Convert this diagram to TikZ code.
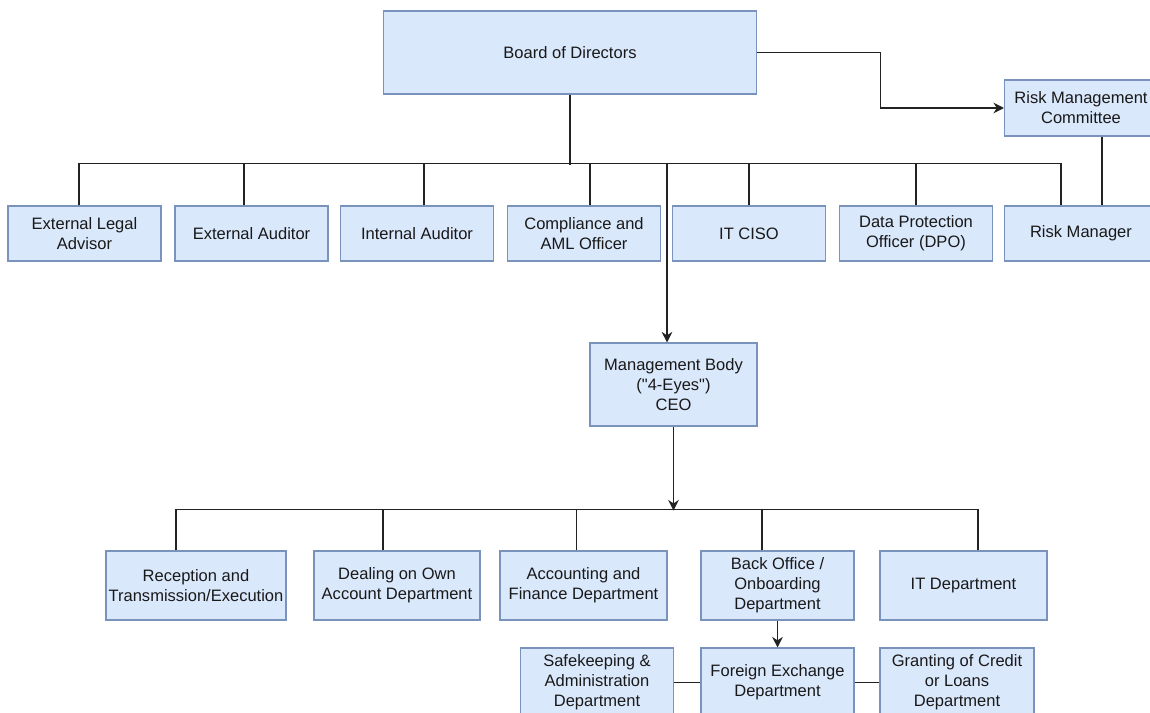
\documentclass[tikz,border=0pt]{standalone}
\usepackage{fontspec}
\setmainfont{Liberation Sans}
\usetikzlibrary{arrows.meta}
\definecolor{boxfill}{HTML}{DAE8FC}
\definecolor{boxline}{HTML}{7A93BC}
\definecolor{wire}{HTML}{222222}

\begin{document}
\begin{tikzpicture}[x=0.02cm, y=-0.02cm,
    unit/.style={rectangle, draw=boxline, fill=boxfill, line width=0.6pt, align=center, inner sep=1pt,
        minimum width=3.06cm, minimum height=1.1cm, text=black!90, font=\fontsize{9.4}{11.4}\selectfont},
    link/.style={draw=wire, line width=0.7pt},
    feed/.style={link, -{Stealth[length=6pt, width=6pt]}}]
    \clip (0,0) rectangle (1150,713);

    \node[unit, minimum width=7.48cm, minimum height=1.66cm] (board) at (570,52.5) {Board of Directors};
    \node[unit, minimum height=1.12cm] (rmc) at (1081,108) {Risk Management\\Committee};

    \node[unit] (ela) at (84.5,233.5) {External Legal\\Advisor};
    \node[unit] (ea) at (251.5,233.5) {External Auditor};
    \node[unit] (ia) at (417,233.5) {Internal Auditor};
    \node[unit] (comp) at (584,233.5) {Compliance and\\AML Officer};
    \node[unit] (ciso) at (749,233.5) {IT CISO};
    \node[unit] (dpo) at (916,233.5) {Data Protection\\Officer (DPO)};
    \node[unit] (rm) at (1081,233.5) {Risk Manager};

    \node[unit, minimum width=3.34cm, minimum height=1.66cm] (mgmt) at (673.5,384.5) {Management Body\\(\textquotedbl 4-Eyes\textquotedbl)\\CEO};

    \node[unit, minimum width=3.6cm, minimum height=1.38cm] (rec) at (196,585.5) {Reception and\\Transmission/Execution};
    \node[unit, minimum width=3.32cm, minimum height=1.38cm] (deal) at (397,585.5) {Dealing on Own\\Account Department};
    \node[unit, minimum width=3.34cm, minimum height=1.38cm] (acc) at (583.5,585.5) {Accounting and\\Finance Department};
    \node[unit, minimum height=1.38cm] (bo) at (777.5,585.5) {Back Office /\\Onboarding\\Department};
    \node[unit, minimum width=3.34cm, minimum height=1.38cm] (itd) at (963.5,585.5) {IT Department};

    \node[unit, minimum height=1.38cm] (saf) at (597,682.5) {Safekeeping \&\\Administration\\Department};
    \node[unit, minimum height=1.38cm] (fx) at (777.5,682.5) {Foreign Exchange\\Department};
    \node[unit, minimum width=3.08cm, minimum height=1.38cm] (grant) at (957,682.5) {Granting of Credit\\or Loans\\Department};

    % board level
    \draw[feed] (board.east) -- ++(123,0) |- (rmc.west);
    \draw[link] (board.south) -- ++(0,70);
    \draw[link] ([xshift=-0.11cm]ela.north) -- ++(0,-42) -| ([xshift=-0.4cm]rm.north);
    \draw[link] ([xshift=-0.15cm]ea.north) -- ++(0,-42);
    \draw[link] ([xshift=0.14cm]ia.north) -- ++(0,-42);
    \draw[link] ([xshift=0.12cm]comp.north) -- ++(0,-42);
    \draw[link] (ciso.north) -- ++(0,-42);
    \draw[link] (dpo.north) -- ++(0,-42);
    \draw[link] ([xshift=0.42cm]rmc.south) -- ([xshift=0.42cm]rm.north);
    \draw[feed] ([xshift=-0.13cm]mgmt.north) ++(0,-179) -- ([xshift=-0.13cm]mgmt.north);

    % departments
    \draw[feed] (mgmt.south) -- ++(0,84);
    \draw[link] ([xshift=-0.4cm]rec.north) -- ++(0,-41) -| ([xshift=0.29cm]itd.north);
    \draw[link] ([xshift=-0.28cm]deal.north) -- ++(0,-41);
    \draw[link] ([xshift=-0.14cm]acc.north) -- ++(0,-41);
    \draw[link] ([xshift=-0.31cm]bo.north) -- ++(0,-41);
    \draw[feed] (bo.south) -- (fx.north);
    \draw[link] (saf.east) -- (fx.west);
    \draw[link] (fx.east) -- (grant.west);
\end{tikzpicture}
\end{document}
